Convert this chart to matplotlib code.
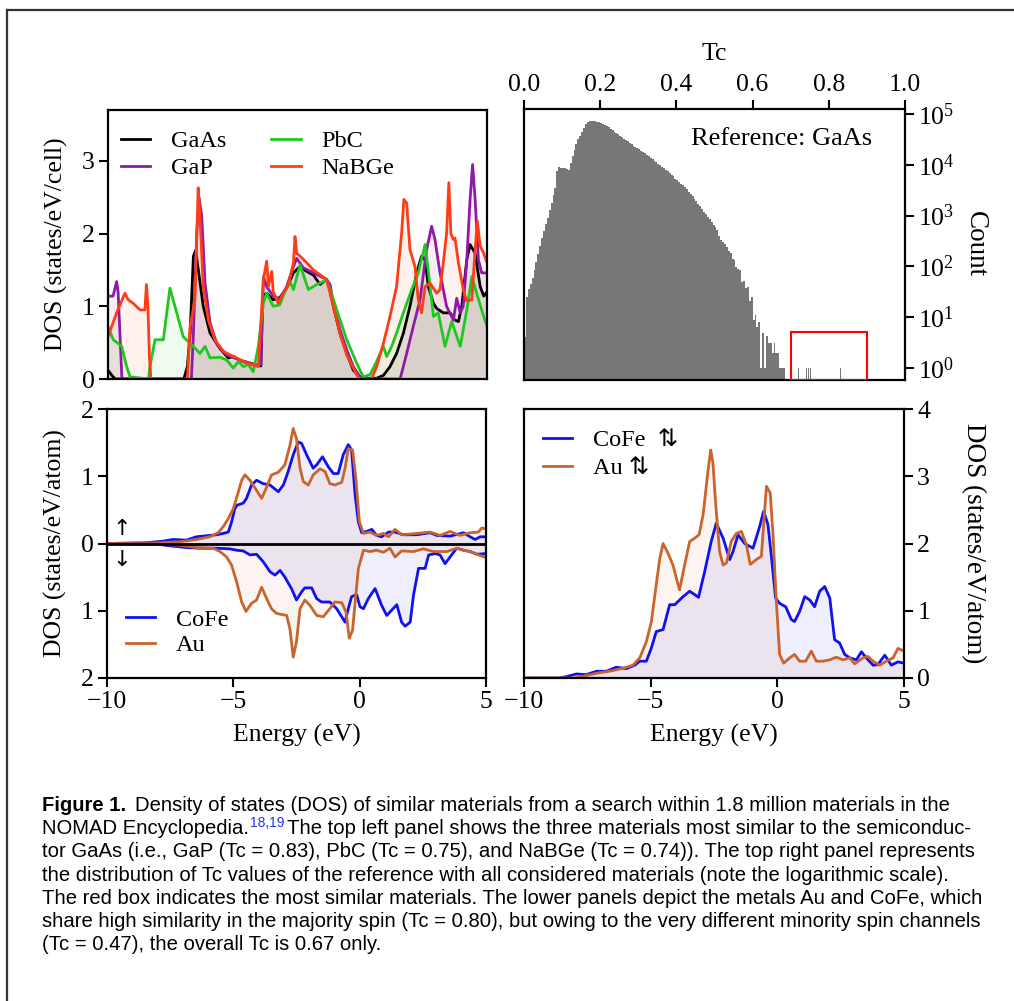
import numpy as np
import matplotlib
matplotlib.use('Agg')
import matplotlib.pyplot as plt
from matplotlib.lines import Line2D
from matplotlib.patches import Rectangle

plt.rcParams['font.family'] = ['Liberation Serif', 'DejaVu Serif']
plt.rcParams['axes.linewidth'] = 1.6

# ---- top left: DOS of GaAs and its most similar materials
gaas_e = [-10, -9.8, -9.7, -7.0, -6.86, -6.75, -6.62, -6.53, -6.23, -5.96, -5.57, -5.24, -5.04, -4.78, -4.5,
          -4.12, -3.95, -3.88, -3.72, -3.46, -3.2, -2.93, -2.66, -2.4, -2.14, -1.87, -1.61, -1.35, -1.21, -1.08,
          -0.82, -0.55, -0.29, -0.03, 0.24, 0.63, 0.9, 1.16, 1.42, 1.69, 1.95, 2.22, 2.41, 2.55, 2.68,
          2.88, 3.01, 3.27, 3.54, 3.73, 3.87, 4.0, 4.2, 4.33, 4.53, 4.73, 4.87, 5.0]
gaas_dos = [0.12, 0.03, 0.0, 0.0, 0.17, 0.63, 1.69, 1.77, 1.0, 0.63, 0.42, 0.29, 0.31, 0.26, 0.22,
            0.19, 0.18, 1.14, 1.18, 1.09, 1.12, 1.25, 1.46, 1.55, 1.48, 1.43, 1.30, 1.37, 1.23, 1.0,
            0.63, 0.35, 0.12, 0.03, 0.01, 0.01, 0.05, 0.17, 0.35, 0.63, 1.0, 1.46, 1.69, 1.64, 1.27,
            1.04, 0.97, 0.91, 0.91, 0.81, 0.79, 1.0, 1.64, 1.85, 1.73, 1.27, 1.14, 1.2]

gap_e = [-10, -9.8, -9.66, -9.6, -9.45, -6.7, -6.62, -6.49, -6.4, -6.29, -6.16, -5.96, -5.7, -5.3, -4.78,
         -4.05, -3.95, -3.85, -3.72, -3.46, -3.2, -2.93, -2.66, -2.53, -2.27, -1.87, -1.35, -1.21, -1.08, -0.82,
         -0.55, -0.29, -0.03, 0.2, 1.56, 1.82, 2.08, 2.35, 2.61, 2.81, 2.94, 3.14, 3.4, 3.67, 3.8,
         3.94, 4.06, 4.2, 4.33, 4.43, 4.53, 4.66, 4.79, 4.93, 5.0]
gap_dos = [1.14, 1.14, 1.34, 1.2, 0.0, 0.0, 0.63, 2.0, 2.5, 2.24, 1.32, 0.77, 0.49, 0.33, 0.26,
           0.19, 0.2, 1.41, 1.27, 1.14, 1.1, 1.27, 1.55, 1.66, 1.53, 1.46, 1.37, 1.3, 1.04, 0.68,
           0.4, 0.17, 0.03, 0.0, 0.0, 0.35, 0.72, 1.09, 1.78, 2.1, 1.92, 1.46, 1.0, 0.81, 1.11,
           0.91, 1.0, 1.64, 2.47, 2.95, 2.47, 1.64, 1.46, 1.46, 1.46]

pbc_e = [-10, -9.79, -9.46, -9.26, -9.13, -8.4, -8.34, -8.14, -7.81, -7.55, -7.35, -7.02, -6.62, -6.36, -6.16,
         -5.96, -5.57, -5.3, -5.04, -4.84, -4.64, -4.45, -4.25, -4.05, -3.85, -3.72, -3.46, -3.2, -3.0, -2.8,
         -2.66, -2.4, -2.07, -1.74, -1.48, -1.35, -1.08, -0.55, -0.16, 0.1, 0.37, 0.63, 0.9, 1.03, 1.23,
         1.42, 1.69, 2.02, 2.28, 2.55, 2.75, 2.88, 3.07, 3.34, 3.6, 3.94, 4.2, 4.4, 4.59, 4.79, 5.0]
pbc_dos = [0.72, 0.54, 0.45, 0.17, 0.03, 0.0, 0.17, 0.54, 0.54, 1.25, 1.0, 0.58, 0.45, 0.35, 0.45,
           0.29, 0.3, 0.26, 0.15, 0.24, 0.17, 0.2, 0.1, 0.45, 1.04, 1.18, 1.0, 1.02, 1.2, 1.34,
           1.23, 1.57, 1.23, 1.3, 1.34, 1.37, 1.09, 0.54, 0.22, 0.03, 0.06, 0.24, 0.45, 0.31, 0.45,
           0.63, 0.91, 1.23, 1.46, 1.85, 1.27, 0.86, 0.91, 0.45, 0.79, 0.45, 0.95, 1.41, 1.18, 0.95, 0.72]

nabge_e = [-10, -9.66, -9.33, -9.2, -9.0, -8.73, -8.54, -8.48, -8.42, -8.36, -8.3, -6.86, -6.75, -6.56, -6.49,
           -6.43, -6.36, -6.23, -6.03, -5.77, -5.44, -5.04, -4.51, -4.05, -3.85, -3.72, -3.65, -3.52, -3.46, -3.26,
           -3.06, -2.86, -2.66, -2.6, -2.53, -2.4, -2.14, -1.87, -1.35, -1.08, -0.82, -0.55, -0.16, -0.03, 0.43,
           0.63, 0.9, 1.16, 1.42, 1.62, 1.71, 1.82, 1.95, 2.15, 2.28, 2.41, 2.55, 2.74, 3.01, 3.14,
           3.27, 3.4, 3.49, 3.57, 3.67, 3.73, 3.87, 4.06, 4.2, 4.4, 4.53, 4.62, 4.73, 4.87, 5.0]
nabge_dos = [0.58, 0.91, 1.18, 1.09, 1.04, 0.95, 0.95, 1.3, 1.0, 0.3, 0.0, 0.0, 0.72, 1.09, 1.92,
             2.63, 2.24, 1.27, 0.81, 0.54, 0.38, 0.31, 0.22, 0.17, 1.37, 1.62, 1.27, 1.48, 1.2, 1.04,
             1.18, 1.3, 1.6, 1.96, 1.73, 1.69, 1.6, 1.5, 1.37, 1.0, 0.63, 0.33, 0.06, 0.0, 0.0,
             0.17, 0.49, 0.86, 1.27, 2.0, 2.47, 2.42, 1.78, 1.55, 1.09, 0.91, 1.27, 1.32, 1.18, 1.23,
             1.6, 2.0, 2.7, 2.0, 1.92, 1.94, 1.6, 1.23, 1.07, 1.09, 1.78, 2.17, 1.83, 1.73, 1.6]

# ---- top right: histogram of Tc (log10 of counts, bins of 0.005 starting at 0)
bin_width = 0.005
log_counts = [0.60, 1.40, 1.55, 1.65, 1.77, 1.92, 2.09, 2.25, 2.40, 2.55,
              2.70, 2.83, 2.95, 3.10, 3.25, 3.40, 3.55, 3.88, 3.96, 3.94,
              3.94, 3.93, 3.92, 3.90, 4.03, 4.18, 4.30, 4.42, 4.50, 4.57,
              4.65, 4.73, 4.80, 4.84, 4.86, 4.87, 4.87, 4.86, 4.85, 4.84,
              4.82, 4.80, 4.78, 4.76, 4.74, 4.71, 4.68, 4.65, 4.63, 4.60,
              4.57, 4.54, 4.51, 4.48, 4.46, 4.43, 4.41, 4.38, 4.36, 4.33,
              4.31, 4.28, 4.26, 4.23, 4.20, 4.17, 4.14, 4.11, 4.08, 4.05,
              4.02, 3.99, 3.96, 3.93, 3.90, 3.87, 3.84, 3.80, 3.77, 3.73,
              3.70, 3.67, 3.63, 3.60, 3.56, 3.52, 3.47, 3.43, 3.38, 3.33,
              3.28, 3.23, 3.18, 3.13, 3.08, 3.03, 2.98, 2.93, 2.87, 2.82,
              2.77, 2.72, 2.60, 2.52, 2.47, 2.44, 2.39, 2.30, 2.26, 2.15,
              2.13, 1.99, 1.95, 1.93, 1.70, 1.72, 1.57, 1.60, 1.31, 1.40,
              0.94, 1.04, 0.81, 0.90, 0.00, 0.68, 0.00, 0.62, 0.48, 0.48,
              0.30, 0.48, 0.30, 0.30, 0.00, 0.00, 0.00]
tail_tc = [0.72, 0.74, 0.745, 0.75, 0.83]
tail_counts = [1, 1, 1, 1, 1]
box_tc = (0.7, 0.9)
box_count = 5

# ---- bottom left: spin-resolved DOS of CoFe and Au
cofe_up_e = [-10, -8.5, -7.78, -7.38, -6.86, -6.46, -5.93, -5.66, -5.4, -5.2, -5.07, -4.94, -4.85, -4.61, -4.48,
             -4.28, -4.08, -3.82, -3.55, -3.22, -3.02, -2.83, -2.63, -2.43, -2.3, -2.1, -1.84, -1.7, -1.47, -1.24,
             -1.04, -0.85, -0.65, -0.45, -0.32, -0.18, -0.05, 0.08, 0.28, 0.48, 0.67, 0.87, 1.14, 1.4, 1.73,
             2.26, 2.79, 3.05, 3.58, 4.11, 4.37, 4.57, 4.77, 5.0]
cofe_up = [0.0, 0.01, 0.035, 0.06, 0.05, 0.1, 0.12, 0.13, 0.15, 0.17, 0.32, 0.52, 0.57, 0.6, 0.67,
           0.87, 0.94, 0.89, 0.87, 0.77, 0.87, 1.07, 1.32, 1.51, 1.49, 1.32, 1.12, 1.17, 1.29, 1.14,
           1.04, 1.04, 1.32, 1.47, 1.39, 0.72, 0.32, 0.16, 0.18, 0.21, 0.12, 0.1, 0.17, 0.17, 0.13,
           0.13, 0.16, 0.12, 0.11, 0.16, 0.1, 0.06, 0.1, 0.1]
au_up_e = [-10, -8.0, -7.12, -6.46, -5.93, -5.6, -5.4, -5.2, -5.0, -4.8, -4.67, -4.54, -4.34, -4.08, -3.88,
           -3.68, -3.49, -3.22, -2.96, -2.76, -2.63, -2.5, -2.36, -2.23, -2.03, -1.84, -1.57, -1.37, -1.18, -0.98,
           -0.71, -0.58, -0.45, -0.28, -0.15, -0.01, 0.15, 0.41, 0.67, 0.94, 1.14, 1.4, 1.66, 2.26, 2.79,
           3.18, 3.58, 3.97, 4.37, 4.7, 4.83, 5.0]
au_up = [0.0, 0.01, 0.025, 0.06, 0.1, 0.16, 0.25, 0.37, 0.52, 0.77, 0.94, 1.02, 0.94, 0.79, 0.67,
         0.84, 1.02, 1.06, 1.17, 1.46, 1.71, 1.56, 1.12, 0.92, 0.87, 1.02, 1.11, 1.07, 0.89, 0.87,
         0.91, 1.12, 1.41, 1.39, 0.97, 0.32, 0.15, 0.17, 0.12, 0.15, 0.1, 0.21, 0.13, 0.15, 0.17,
         0.12, 0.18, 0.12, 0.16, 0.17, 0.23, 0.22]
cofe_dn_e = [-10, -8.0, -7.51, -6.86, -6.33, -5.66, -5.14, -4.87, -4.61, -4.34, -4.08, -3.82, -3.55, -3.35, -3.15,
             -2.96, -2.7, -2.5, -2.3, -2.17, -1.9, -1.7, -1.51, -1.18, -0.91, -0.71, -0.58, -0.45, -0.32, -0.12,
             0.01, 0.15, 0.34, 0.61, 0.87, 1.07, 1.27, 1.47, 1.66, 1.8, 2.0, 2.13, 2.33, 2.59, 2.73,
             2.99, 3.18, 3.38, 3.58, 3.84, 4.11, 4.37, 4.64, 5.0]
cofe_dn = [0.0, 0.01, 0.035, 0.06, 0.07, 0.07, 0.08, 0.1, 0.11, 0.17, 0.16, 0.27, 0.42, 0.47, 0.4,
           0.5, 0.67, 0.84, 0.72, 0.66, 0.66, 0.82, 0.87, 0.87, 0.97, 1.09, 1.17, 0.97, 0.79, 0.76,
           0.94, 0.97, 0.82, 0.67, 0.92, 1.07, 0.99, 0.91, 1.17, 1.23, 1.17, 0.77, 0.37, 0.37, 0.17,
           0.15, 0.17, 0.3, 0.2, 0.07, 0.1, 0.12, 0.16, 0.15]
au_dn_e = [-10, -8.0, -7.12, -6.46, -5.8, -5.53, -5.27, -5.07, -4.87, -4.67, -4.5, -4.28, -4.08, -3.88, -3.68,
           -3.49, -3.29, -2.89, -2.76, -2.63, -2.5, -2.36, -2.17, -1.97, -1.7, -1.44, -1.18, -0.98, -0.71, -0.54,
           -0.41, -0.28, -0.18, -0.05, 0.15, 0.41, 0.67, 0.94, 1.2, 1.4, 1.66, 2.13, 2.52, 2.92, 3.45,
           3.84, 4.11, 4.37, 4.64, 5.0]
au_dn = [0.0, 0.01, 0.025, 0.06, 0.07, 0.12, 0.2, 0.32, 0.57, 0.87, 1.01, 0.89, 0.84, 0.65, 0.82,
         0.97, 1.04, 1.07, 1.27, 1.69, 1.46, 0.97, 0.84, 0.92, 1.07, 1.09, 0.97, 0.87, 0.88, 1.02,
         1.41, 1.29, 0.87, 0.37, 0.1, 0.12, 0.1, 0.13, 0.07, 0.2, 0.11, 0.12, 0.08, 0.12, 0.12,
         0.07, 0.1, 0.12, 0.16, 0.21]

# ---- bottom right: total DOS (both spins)
cofe_tot_e = [-10, -8.6, -8.33, -7.93, -7.54, -7.14, -6.75, -6.36, -5.96, -5.63, -5.43, -5.17, -4.97, -4.78, -4.51,
              -4.25, -4.05, -3.72, -3.46, -3.26, -3.11, -2.87, -2.61, -2.41, -2.14, -1.88, -1.75, -1.55, -1.29, -0.96,
              -0.7, -0.54, -0.37, -0.24, -0.07, 0.09, 0.33, 0.55, 0.68, 0.88, 1.08, 1.28, 1.47, 1.67, 1.87,
              2.07, 2.26, 2.46, 2.66, 2.86, 3.12, 3.32, 3.51, 3.78, 3.97, 4.24, 4.5, 4.76, 5.0]
cofe_tot = [0.0, 0.0, 0.02, 0.06, 0.05, 0.1, 0.1, 0.16, 0.14, 0.19, 0.25, 0.25, 0.45, 0.69, 0.72,
            1.09, 1.09, 1.21, 1.29, 1.24, 1.2, 1.58, 2.03, 2.3, 2.08, 1.76, 1.88, 2.13, 2.0, 1.93,
            2.25, 2.48, 2.28, 1.83, 1.19, 1.11, 1.06, 0.87, 0.84, 0.99, 1.21, 1.16, 1.06, 1.29, 1.36,
            1.19, 0.57, 0.52, 0.35, 0.3, 0.27, 0.39, 0.3, 0.19, 0.2, 0.34, 0.19, 0.24, 0.22]
au_tot_e = [-10, -8.0, -7.8, -7.14, -6.49, -5.96, -5.7, -5.43, -5.17, -4.97, -4.78, -4.64, -4.51, -4.32, -4.12,
            -3.99, -3.86, -3.66, -3.46, -3.26, -3.09, -2.93, -2.74, -2.63, -2.54, -2.43, -2.28, -2.14, -2.01, -1.82,
            -1.62, -1.42, -1.22, -1.07, -0.83, -0.63, -0.43, -0.28, -0.17, -0.04, 0.09, 0.25, 0.49, 0.68, 0.88,
            1.12, 1.34, 1.54, 1.8, 2.07, 2.33, 2.59, 2.86, 3.05, 3.38, 3.58, 3.78, 4.04, 4.3, 4.57,
            4.76, 5.0]
au_tot = [0.0, 0.0, 0.015, 0.07, 0.11, 0.16, 0.19, 0.3, 0.54, 0.84, 1.39, 1.78, 2.0, 1.86, 1.68,
          1.49, 1.31, 1.68, 2.03, 2.08, 2.13, 2.43, 3.07, 3.39, 3.19, 2.57, 1.88, 1.68, 1.71, 2.03,
          2.15, 2.18, 1.98, 1.69, 1.76, 1.81, 2.85, 2.75, 2.13, 1.14, 0.35, 0.22, 0.3, 0.35, 0.25,
          0.25, 0.4, 0.25, 0.25, 0.27, 0.31, 0.27, 0.3, 0.21, 0.3, 0.32, 0.25, 0.19, 0.25, 0.3,
          0.44, 0.4]

caption = [
    'Density of states (DOS) of similar materials from a search within 1.8 million materials in the',
    'The top left panel shows the three materials most similar to the semiconduc-',
    'tor GaAs (i.e., GaP (Tc = 0.83), PbC (Tc = 0.75), and NaBGe (Tc = 0.74)). The top right panel represents',
    'the distribution of Tc values of the reference with all considered materials (note the logarithmic scale).',
    'The red box indicates the most similar materials. The lower panels depict the metals Au and CoFe, which',
    'share high similarity in the majority spin (Tc = 0.80), but owing to the very different minority spin channels',
    '(Tc = 0.47), the overall Tc is 0.67 only.',
]

W, H = 1014, 1001
fig = plt.figure(figsize=(W / 100, H / 100), dpi=100)


def box(l, t, r, b):
    return [l / W, 1 - b / H, (r - l) / W, (b - t) / H]


fs_tick = 18.5
fs_lab = 18.5
fs_leg = 17.5
tick_kw = dict(direction='out', length=6.5, width=1.5, labelsize=fs_tick, pad=3)

c_black, c_purple, c_green, c_red = 'black', '#8e1aa8', '#1ec81e', '#ff3c14'
c_blue, c_orange = '#1010f0', '#c8642d'

# top left
ax1 = fig.add_axes(box(108, 110, 487, 379))
for e, d, c, lab in [(gaas_e, gaas_dos, c_black, 'GaAs'), (gap_e, gap_dos, c_purple, 'GaP'),
                     (pbc_e, pbc_dos, c_green, 'PbC'), (nabge_e, nabge_dos, c_red, 'NaBGe')]:
    ax1.fill_between(e, d, 0, color=c, alpha=0.07, lw=0)
    ax1.plot(e, d, color=c, lw=2, label=lab)
ax1.set_xlim(-10, 5)
ax1.set_ylim(0, 3.7)
ax1.set_yticks([0, 1, 2, 3])
ax1.set_xticks([])
ax1.tick_params(axis='y', **tick_kw)
ax1.set_ylabel('DOS (states/eV/cell)', fontsize=fs_lab, labelpad=10)
ax1.legend(loc='upper left', bbox_to_anchor=(0.035, 0.925), ncol=2, frameon=False, fontsize=fs_leg,
           handlelength=1.2, handletextpad=0.85, columnspacing=1.85, labelspacing=0.2,
           borderaxespad=0, borderpad=0)

# top right
ax2 = fig.add_axes(box(524, 109, 905, 380))
edges = np.arange(len(log_counts)) * bin_width
counts = 10 ** np.array(log_counts)
ax2.bar(edges, counts, width=bin_width, align='edge', color='#777777', lw=0)
ax2.bar(tail_tc, tail_counts, width=0.003, align='edge', color='#777777', lw=0)
ax2.set_yscale('log')
ax2.set_xlim(0, 1)
ax2.set_ylim(10 ** -0.24, 10 ** 5.1)
ax2.add_patch(Rectangle((box_tc[0], 10 ** -0.24), box_tc[1] - box_tc[0], box_count - 10 ** -0.24,
                        fill=False, ec='red', lw=1.5, zorder=5))
ax2.xaxis.tick_top()
ax2.xaxis.set_label_position('top')
ax2.yaxis.tick_right()
ax2.yaxis.set_label_position('right')
ax2.set_xticks([0.0, 0.2, 0.4, 0.6, 0.8, 1.0])
ax2.set_xticklabels(['0.0', '0.2', '0.4', '0.6', '0.8', '1.0'])
ax2.set_yticks([10 ** k for k in range(6)])
ax2.minorticks_off()
ax2.tick_params(**tick_kw)
ax2.set_xlabel('Tc', fontsize=fs_lab, labelpad=10)
ax2.set_ylabel('Count', fontsize=fs_lab + 1, rotation=270, labelpad=24)
ax2.text(0.913, 0.89, 'Reference: GaAs', transform=ax2.transAxes, ha='right', va='center', fontsize=19)

# bottom left
ax3 = fig.add_axes(box(107, 409, 486, 678))
dn_cofe = -np.array(cofe_dn)
dn_au = -np.array(au_dn)
ax3.fill_between(cofe_up_e, cofe_up, 0, color=c_blue, alpha=0.07, lw=0)
ax3.fill_between(au_up_e, au_up, 0, color=c_orange, alpha=0.07, lw=0)
ax3.fill_between(cofe_dn_e, dn_cofe, 0, color=c_blue, alpha=0.07, lw=0)
ax3.fill_between(au_dn_e, dn_au, 0, color=c_orange, alpha=0.07, lw=0)
ax3.plot(cofe_up_e, cofe_up, color=c_blue, lw=2, label='CoFe')
ax3.plot(au_up_e, au_up, color=c_orange, lw=2, label='Au')
ax3.plot(cofe_dn_e, dn_cofe, color=c_blue, lw=2)
ax3.plot(au_dn_e, dn_au, color=c_orange, lw=2)
ax3.axhline(0, color='black', lw=2)
ax3.set_xlim(-10, 5)
ax3.set_ylim(-2, 2)
ax3.set_yticks([-2, -1, 0, 1, 2])
ax3.set_yticklabels(['2', '1', '0', '1', '2'])
ax3.set_xticks([-10, -5, 0, 5])
ax3.tick_params(**tick_kw)
ax3.set_xlabel('Energy (eV)', fontsize=fs_lab, labelpad=8)
ax3.set_ylabel('DOS (states/eV/atom)', fontsize=fs_lab, labelpad=10)
ax3.text(-9.42, 0.22, '\u2191', fontsize=16, ha='center', va='center', family=['DejaVu Sans'])
ax3.text(-9.42, -0.25, '\u2193', fontsize=16, ha='center', va='center', family=['DejaVu Sans'])
ax3.legend(loc='lower left', bbox_to_anchor=(0.05, 0.08), frameon=False, fontsize=fs_leg,
           handlelength=1.2, handletextpad=0.85, labelspacing=0.15, borderaxespad=0, borderpad=0)

# bottom right
ax4 = fig.add_axes(box(524, 409, 904, 678))
ax4.fill_between(cofe_tot_e, cofe_tot, 0, color=c_blue, alpha=0.07, lw=0)
ax4.fill_between(au_tot_e, au_tot, 0, color=c_orange, alpha=0.07, lw=0)
ax4.plot(cofe_tot_e, cofe_tot, color=c_blue, lw=2, label='CoFe  \u21c5')
ax4.plot(au_tot_e, au_tot, color=c_orange, lw=2, label='Au \u21c5')
ax4.set_xlim(-10, 5)
ax4.set_ylim(0, 4)
ax4.set_xticks([-10, -5, 0, 5])
ax4.set_yticks([0, 1, 2, 3, 4])
ax4.yaxis.tick_right()
ax4.yaxis.set_label_position('right')
ax4.tick_params(**tick_kw)
ax4.set_xlabel('Energy (eV)', fontsize=fs_lab, labelpad=8)
ax4.set_ylabel('DOS (states/eV/atom)', fontsize=fs_lab + 1, rotation=270, labelpad=40)
leg = ax4.legend(loc='upper left', bbox_to_anchor=(0.05, 0.925), frameon=False, fontsize=fs_leg,
                 handlelength=1.2, handletextpad=0.85, labelspacing=0.25, borderaxespad=0, borderpad=0)
for t in leg.get_texts():
    t.set_family(['Liberation Serif', 'DejaVu Sans'])

# frame around the figure
fig.add_artist(Line2D([7 / W, 7 / W], [0, 1 - 10 / H], transform=fig.transFigure, color='#333333', lw=1.6))
fig.add_artist(Line2D([7 / W, 1], [1 - 10 / H, 1 - 10 / H], transform=fig.transFigure, color='#333333', lw=1.6))

# caption
cap_font = dict(family='Liberation Sans', fontsize=14.6, va='baseline')
x0 = 42 / W
y0 = 811
dy = 23.2
r = fig.canvas.get_renderer()
t = fig.text(x0, 1 - y0 / H, 'Figure 1.', weight='bold', **cap_font)
x1 = t.get_window_extent(r).x1 / W
fig.text(x1 + 9 / W, 1 - y0 / H, caption[0], **cap_font)
t = fig.text(x0, 1 - (y0 + dy) / H, 'NOMAD Encyclopedia.', **cap_font)
x1 = t.get_window_extent(r).x1 / W
t = fig.text(x1 + 1 / W, 1 - (y0 + dy - 7) / H, '18,19', color='#2030ff', family='Liberation Sans',
             fontsize=10, va='baseline')
x1 = t.get_window_extent(r).x1 / W
fig.text(x1 + 3 / W, 1 - (y0 + dy) / H, caption[1], **cap_font)
for i, line in enumerate(caption[2:]):
    fig.text(x0, 1 - (y0 + dy * (i + 2)) / H, line, **cap_font)

fig.savefig('out.png', dpi=100)
